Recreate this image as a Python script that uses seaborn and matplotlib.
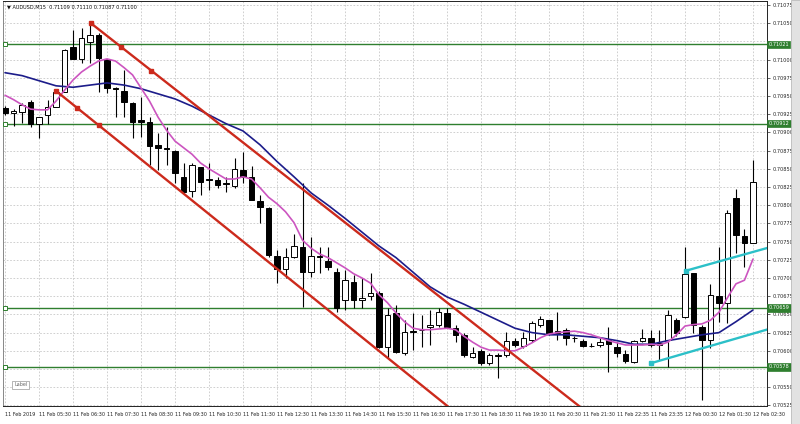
import numpy as np
import pandas as pd
import matplotlib
matplotlib.use("Agg")
import matplotlib.pyplot as plt
import matplotlib.transforms as mtransforms
from matplotlib.patches import Rectangle
import seaborn as sns

sns.set_style("white")
plt.rcParams['font.family'] = ['DejaVu Sans']

# ---------------- data (AUDUSD M15) ----------------
opens = [0.70934, 0.70927, 0.70928, 0.70942, 0.70912, 0.70924, 0.70935, 0.70956, 0.71017, 0.71001,
         0.71024, 0.71034, 0.71001, 0.70961, 0.70957, 0.70940, 0.70917, 0.70914, 0.70883, 0.70879,
         0.70875, 0.70839, 0.70820, 0.70853, 0.70836, 0.70835, 0.70831, 0.70827, 0.70848, 0.70839,
         0.70806, 0.70796, 0.70730, 0.70712, 0.70729, 0.70743, 0.70708, 0.70730, 0.70723, 0.70708,
         0.70670, 0.70695, 0.70670, 0.70675, 0.70680, 0.70605, 0.70652, 0.70597, 0.70627, 0.70629,
         0.70633, 0.70636, 0.70652, 0.70631, 0.70622, 0.70592, 0.70600, 0.70583, 0.70594, 0.70594,
         0.70614, 0.70607, 0.70615, 0.70636, 0.70642, 0.70625, 0.70629, 0.70618, 0.70614, 0.70607,
         0.70608, 0.70615, 0.70605, 0.70596, 0.70585, 0.70614, 0.70618, 0.70608, 0.70615, 0.70642,
         0.70647, 0.70707, 0.70633, 0.70615, 0.70675, 0.70666, 0.70810, 0.70758, 0.70748]
highs = [0.70936, 0.70932, 0.70940, 0.70945, 0.70921, 0.70945, 0.70957, 0.71015, 0.71041, 0.71043,
         0.71048, 0.71037, 0.71001, 0.70962, 0.70986, 0.70942, 0.70949, 0.70921, 0.70899, 0.70908,
         0.70876, 0.70858, 0.70858, 0.70853, 0.70858, 0.70839, 0.70839, 0.70865, 0.70873, 0.70854,
         0.70814, 0.70798, 0.70739, 0.70741, 0.70761, 0.70831, 0.70756, 0.70743, 0.70743, 0.70714,
         0.70711, 0.70704, 0.70700, 0.70707, 0.70682, 0.70659, 0.70663, 0.70642, 0.70652, 0.70649,
         0.70656, 0.70659, 0.70659, 0.70636, 0.70625, 0.70605, 0.70603, 0.70597, 0.70597, 0.70626,
         0.70618, 0.70626, 0.70641, 0.70648, 0.70642, 0.70653, 0.70631, 0.70620, 0.70616, 0.70611,
         0.70618, 0.70633, 0.70612, 0.70601, 0.70615, 0.70630, 0.70629, 0.70629, 0.70656, 0.70645,
         0.70743, 0.70707, 0.70636, 0.70692, 0.70743, 0.70794, 0.70822, 0.70767, 0.70862]
lows = [0.70924, 0.70909, 0.70913, 0.70908, 0.70892, 0.70912, 0.70935, 0.70956, 0.71001, 0.70995,
        0.70995, 0.70956, 0.70954, 0.70921, 0.70921, 0.70892, 0.70894, 0.70855, 0.70848, 0.70855,
        0.70831, 0.70817, 0.70811, 0.70814, 0.70821, 0.70824, 0.70818, 0.70824, 0.70831, 0.70807,
        0.70776, 0.70729, 0.70693, 0.70700, 0.70728, 0.70660, 0.70701, 0.70707, 0.70711, 0.70653,
        0.70656, 0.70659, 0.70659, 0.70670, 0.70604, 0.70590, 0.70597, 0.70594, 0.70601, 0.70605,
        0.70608, 0.70633, 0.70631, 0.70612, 0.70592, 0.70590, 0.70581, 0.70581, 0.70563, 0.70592,
        0.70605, 0.70604, 0.70612, 0.70633, 0.70622, 0.70615, 0.70608, 0.70612, 0.70605, 0.70605,
        0.70605, 0.70571, 0.70592, 0.70583, 0.70583, 0.70612, 0.70605, 0.70587, 0.70578, 0.70620,
        0.70645, 0.70625, 0.70533, 0.70604, 0.70640, 0.70638, 0.70734, 0.70715, 0.70748]
closes = [0.70927, 0.70930, 0.70938, 0.70912, 0.70921, 0.70935, 0.70956, 0.71013, 0.71001, 0.71030,
          0.71034, 0.71002, 0.70961, 0.70960, 0.70942, 0.70914, 0.70914, 0.70881, 0.70879, 0.70877,
          0.70844, 0.70818, 0.70855, 0.70832, 0.70835, 0.70828, 0.70829, 0.70850, 0.70839, 0.70807,
          0.70798, 0.70732, 0.70712, 0.70729, 0.70744, 0.70708, 0.70730, 0.70729, 0.70715, 0.70659,
          0.70697, 0.70670, 0.70673, 0.70680, 0.70605, 0.70649, 0.70598, 0.70626, 0.70626, 0.70628,
          0.70636, 0.70653, 0.70633, 0.70622, 0.70594, 0.70597, 0.70583, 0.70594, 0.70593, 0.70614,
          0.70608, 0.70618, 0.70638, 0.70644, 0.70625, 0.70627, 0.70618, 0.70617, 0.70607, 0.70606,
          0.70612, 0.70609, 0.70597, 0.70586, 0.70614, 0.70618, 0.70608, 0.70611, 0.70649, 0.70625,
          0.70706, 0.70636, 0.70615, 0.70677, 0.70666, 0.70789, 0.70759, 0.70748, 0.70832]

# fast moving average (pink), one value per bar
ma_fast = [0.70951, 0.70945, 0.70938, 0.70932, 0.70931, 0.70931, 0.70943, 0.70958, 0.70972, 0.70983,
           0.70991, 0.70998, 0.71001, 0.70998, 0.70989, 0.70979, 0.70961, 0.70943, 0.70921, 0.70903,
           0.70888, 0.70879, 0.70870, 0.70858, 0.70850, 0.70843, 0.70836, 0.70836, 0.70839, 0.70836,
           0.70824, 0.70811, 0.70802, 0.70791, 0.70776, 0.70752, 0.70741, 0.70733, 0.70728, 0.70721,
           0.70714, 0.70706, 0.70700, 0.70693, 0.70677, 0.70666, 0.70652, 0.70640, 0.70631, 0.70629,
           0.70629, 0.70630, 0.70631, 0.70629, 0.70620, 0.70612, 0.70605, 0.70601, 0.70601, 0.70600,
           0.70600, 0.70605, 0.70611, 0.70618, 0.70623, 0.70625, 0.70626, 0.70627, 0.70625, 0.70622,
           0.70618, 0.70614, 0.70611, 0.70608, 0.70608, 0.70608, 0.70609, 0.70608, 0.70612, 0.70622,
           0.70634, 0.70636, 0.70637, 0.70642, 0.70653, 0.70673, 0.70692, 0.70697, 0.70726]
# slow moving average (navy), read every second bar
ma_slow_idx = list(range(0, 89, 2))
ma_slow = [0.70982, 0.70978, 0.70971, 0.70964, 0.70962, 0.70965, 0.70968, 0.70965, 0.70960, 0.70953,
           0.70946, 0.70936, 0.70924, 0.70912, 0.70902, 0.70883, 0.70860, 0.70839, 0.70817, 0.70800,
           0.70782, 0.70763, 0.70744, 0.70728, 0.70708, 0.70688, 0.70674, 0.70664, 0.70653, 0.70642,
           0.70631, 0.70625, 0.70622, 0.70622, 0.70620, 0.70618, 0.70614, 0.70609, 0.70609, 0.70614,
           0.70618, 0.70622, 0.70625, 0.70640, 0.70656]

# horizontal support / resistance levels
levels = [0.71021, 0.70912, 0.70659, 0.70578]

# trend lines: (bar index, price) anchors
red_upper = [(10.1, 0.71050), (17.2, 0.70985)]
red_lower = [(6.0, 0.70957), (11.0, 0.70910)]
cyan_upper = [(80.1, 0.70710), (89.6, 0.70741)]
cyan_lower = [(76.0, 0.70583), (89.6, 0.70629)]

x_labels = ["11 Feb 2019", "11 Feb 05:30", "11 Feb 06:30", "11 Feb 07:30", "11 Feb 08:30",
            "11 Feb 09:30", "11 Feb 10:30", "11 Feb 11:30", "11 Feb 12:30", "11 Feb 13:30",
            "11 Feb 14:30", "11 Feb 15:30", "11 Feb 16:30", "11 Feb 17:30", "11 Feb 18:30",
            "11 Feb 19:30", "11 Feb 20:30", "11 Feb 21:30", "11 Feb 22:35", "11 Feb 23:35",
            "12 Feb 00:30", "12 Feb 01:30", "12 Feb 02:30"]
x_label_idx = list(range(0, 89, 4))
title = "\u25bc AUDUSD,M15  0.71109 0.71110 0.71087 0.71100"

# ---------------- figure ----------------
W, H = 800, 424
fig = plt.figure(figsize=(W / 100, H / 100), dpi=100)
fig.patch.set_facecolor("white")
ax = fig.add_axes([3 / W, (H - 406) / H, (767 - 3) / W, (406 - 1) / H])
ax.set_facecolor("white")

o = np.array(opens); c = np.array(closes); hi = np.array(highs); lo = np.array(lows)
idx = np.arange(len(o))
up = c >= o

# grid
yt = np.round(np.arange(0.70525, 0.710751, 0.00025), 5)
for y in yt:
    ax.axhline(y, color="#c8c8c8", lw=0.6, ls=(0, (2, 2)), zorder=0)
for xi in x_label_idx:
    ax.axvline(xi, color="#c8c8c8", lw=0.6, ls=(0, (2, 2)), zorder=0)

# levels
green = "#2f7f2f"
for lv in levels:
    ax.axhline(lv, color=green, lw=1.0, zorder=2)
    ax.plot([0], [lv], marker="s", ms=2.6, mfc="white", mec=green, mew=0.7, zorder=6, clip_on=False)

# candles
ax.vlines(idx, lo, hi, color="black", lw=0.8, zorder=3)
ax.bar(idx, np.maximum(np.abs(c - o), 1e-7), bottom=np.minimum(o, c), width=0.6,
       color=np.where(up, "white", "black"), edgecolor="black", lw=0.7, zorder=4)

# moving averages
df_fast = pd.DataFrame({"bar": idx, "ma": ma_fast})
df_slow = pd.DataFrame({"bar": ma_slow_idx, "ma": ma_slow})
sns.lineplot(data=df_slow, x="bar", y="ma", color="#1c1c8a", lw=1.2, ax=ax, zorder=5)
sns.lineplot(data=df_fast, x="bar", y="ma", color="#cc55c0", lw=1.2, ax=ax, zorder=5)

# trend lines (rays)
def ray(anchors, color, lw, dot_marker, dot_size, extend_to, mid=True):
    (x0, y0), (x1, y1) = anchors
    slope = (y1 - y0) / (x1 - x0)
    ax.plot([x0, extend_to], [y0, y0 + slope * (extend_to - x0)], color=color, lw=lw, zorder=6,
            solid_capstyle="butt")
    pts = [(x0, y0), ((x0 + x1) / 2, (y0 + y1) / 2), (x1, y1)] if mid else [(x0, y0)]
    for px, py in pts:
        ax.plot([px], [py], marker=dot_marker, ms=dot_size, color=color, zorder=7)

red = "#cc2a1c"
ray(red_upper, red, 1.7, "s", 2.8, 95)
ray(red_lower, red, 1.7, "s", 2.8, 95)
cyan = "#2cc0c8"
ray(cyan_upper, cyan, 1.7, "s", 2.6, 95, mid=False)
ray(cyan_lower, cyan, 1.7, "s", 2.6, 95, mid=False)

ax.set_xlim(-0.24, 89.65)
ax.set_ylim(0.705242, 0.710805)
ax.set_xlabel(""); ax.set_ylabel("")

# axes, ticks (labels hidden where a level box sits, as the terminal does)
ax.yaxis.tick_right()
ax.set_yticks(yt)
ylabs = []
for v in yt:
    hidden = any(abs(v - lv) < 0.00010 and abs(v - lv) > 0.00000 and round(v, 5) in (0.71025, 0.70575)
                 for lv in levels)
    ylabs.append("" if hidden else f"{v:.5f}")
ax.set_yticklabels(ylabs)
ax.tick_params(axis="y", labelsize=3.6, length=2.5, width=0.5, pad=1.5, colors="#222222")
ax.set_xticks(x_label_idx)
ax.set_xticklabels(x_labels, ha="left")
ax.tick_params(axis="x", labelsize=3.5, length=2.5, width=0.5, pad=1.5, colors="#222222")
for lab in ax.get_xticklabels():
    lab.set_horizontalalignment("left")
for sp in ax.spines.values():
    sp.set_color("#222222"); sp.set_linewidth(0.7)
ax.spines["left"].set_color("#888888")

# level price boxes on the right axis
trans = mtransforms.blended_transform_factory(ax.transAxes, ax.transData)
for lv in levels:
    ax.text(1.002, lv, f"{lv:.5f}", transform=trans, fontsize=3.6, color="white", va="center",
            ha="left", zorder=10, clip_on=False,
            bbox=dict(boxstyle="square,pad=0.25", fc=green, ec=green, lw=0.5))

# title and label
fig.text(7 / W, 1 - 7 / H, title, fontsize=3.6, color="#111111", va="center", ha="left")
fig.text(14 / W, 1 - 385 / H, "Label", fontsize=3.5, color="#666666", va="center", ha="left",
         bbox=dict(boxstyle="square,pad=0.35", fc="white", ec="#999999", lw=0.5))

# right scrollbar strip (covers the end of the last time label, as in the terminal)
fig.patches.append(Rectangle((791 / W, 0), 9 / W, 1, transform=fig.transFigure,
                             fc="#e2e2e2", ec="#b0b0b0", lw=0.5, zorder=20))

fig.savefig("out.png", dpi=100, facecolor="white")
